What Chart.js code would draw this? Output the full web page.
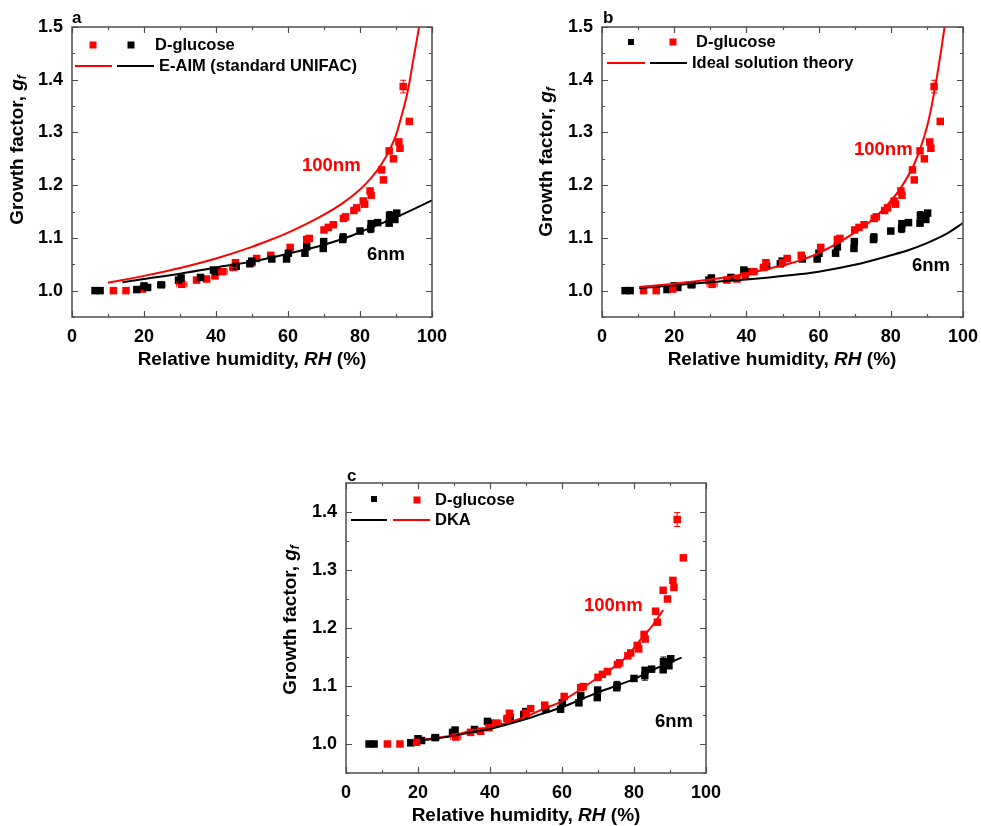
<!DOCTYPE html>
<html>
<head>
<meta charset="utf-8">
<script src="https://cdn.jsdelivr.net/npm/chart.js@4/dist/chart.umd.min.js"></script>
<style>
  body { margin: 0; background: #fff; width: 981px; height: 826px; position: relative; overflow: hidden; }
  .panel { position: absolute; }
</style>
</head>
<body>
<div class="panel" style="left:0px;top:0px;width:450px;height:400px"><canvas id="chartA"></canvas></div>
<div class="panel" style="left:520px;top:0px;width:461px;height:400px"><canvas id="chartB"></canvas></div>
<div class="panel" style="left:270px;top:460px;width:460px;height:366px"><canvas id="chartC"></canvas></div>
<script>
// measured growth factors, D-glucose, 100 nm particles
const rh100 = [11.5, 15.0, 19.6, 30.5, 34.6, 37.4, 39.7, 41.9, 44.8, 45.4, 50.0, 51.3, 55.2, 60.6, 65.2, 65.9,
               70.0, 71.2, 72.6, 75.4, 76.0, 78.3, 79.1, 80.9, 81.3, 82.8, 83.1, 86.0, 86.5, 88.1, 89.3,
               90.8, 91.1, 92.0, 93.7];
const gf100 = [1.000, 1.000, 1.003, 1.012, 1.020, 1.022, 1.028, 1.036, 1.044, 1.053, 1.053, 1.061, 1.067, 1.082, 1.097, 1.099,
               1.115, 1.120, 1.125, 1.137, 1.140, 1.152, 1.157, 1.170, 1.164, 1.189, 1.181, 1.229, 1.210, 1.265, 1.250,
               1.282, 1.270, 1.387, 1.321];
const errX100 = [0, 0, 0, 1.4, 0, 0, 0, 1.2, 1.0, 0, 0, 0, 0, 0, 0, 0,
                 0, 0, 0, 0, 0, 0, 0, 0, 0, 0, 0, 0, 0, 0, 0,
                 0, 0, 0, 0];
const errY100 = [0, 0, 0, 0, 0, 0, 0, 0, 0, 0, 0, 0, 0, 0, 0, 0,
                 0, 0, 0, 0, 0, 0, 0, 0, 0, 0, 0, 0, 0, 0, 0,
                 0, 0, 0.012, 0];

// measured growth factors, D-glucose, 6 nm particles
const rh6 = [6.4, 7.8, 18.0, 20.0, 21.0, 24.8, 29.6, 30.3, 35.7, 39.3, 40.0, 45.6, 49.4, 49.9, 55.5, 59.6,
             60.1, 64.7, 65.2, 69.8, 69.9, 75.2, 75.3, 80.0, 83.0, 83.1, 84.9, 88.1, 88.2, 89.7, 90.2];
const gf6 = [1.000, 1.000, 1.002, 1.009, 1.006, 1.011, 1.020, 1.024, 1.025, 1.039, 1.036, 1.046, 1.051, 1.056, 1.060, 1.060,
             1.071, 1.071, 1.083, 1.080, 1.093, 1.097, 1.101, 1.113, 1.118, 1.127, 1.129, 1.128, 1.142, 1.135, 1.147];
const errX6 = [0, 0, 0, 0, 0, 1.0, 0, 0, 0, 0, 0, 0, 0, 0, 0, 0,
               0, 0, 0, 0, 0, 0, 0, 0, 0, 0, 0, 0, 0, 0, 0];
const errY6 = [0, 0, 0, 0, 0, 0, 0, 0, 0, 0, 0, 0, 0, 0, 0, 0,
               0, 0, 0, 0, 0, 0, 0.007, 0, 0.008, 0, 0, 0, 0.008, 0, 0];

// E-AIM (standard UNIFAC)
const aimRh100 = [10, 20, 30, 40, 50, 55, 60, 65, 70, 75, 80, 83, 85.6, 88.3, 90, 92, 93, 94, 94.8, 95.6, 96.4, 97];
const aimGf100 = [1.015, 1.028, 1.043, 1.061, 1.083, 1.096, 1.110, 1.126, 1.144, 1.165, 1.192, 1.213, 1.236, 1.268, 1.295,
                  1.343, 1.370, 1.405, 1.438, 1.468, 1.500, 1.525];
const aimRh6 = [14, 20, 30, 40, 50, 55.6, 60, 70, 78, 80, 90, 100];
const aimGf6 = [1.016, 1.022, 1.032, 1.044, 1.055, 1.063, 1.070, 1.087, 1.105, 1.111, 1.139, 1.171];

// ideal solution theory
const idRh100 = [10.3, 20, 29.9, 40, 50, 54.8, 60, 70, 75, 80, 82.5, 86.2, 88.1, 90, 91, 92, 93, 94, 94.9, 95.5];
const idGf100 = [1.007, 1.013, 1.021, 1.032, 1.048, 1.057, 1.071, 1.110, 1.135, 1.170, 1.192, 1.236, 1.268, 1.310,
                 1.340, 1.375, 1.415, 1.458, 1.500, 1.530];
const idRh6 = [10.3, 20, 29.9, 40, 52, 60, 70, 80, 85, 90, 95, 100];
const idGf6 = [1.005, 1.010, 1.016, 1.021, 1.029, 1.036, 1.049, 1.067, 1.077, 1.090, 1.106, 1.128];

// DKA
const dkaRh100 = [21.9, 30, 35.4, 40, 50, 53.9, 60, 68.7, 70, 78, 82.6, 85, 88.1];
const dkaGf100 = [1.008, 1.015, 1.024, 1.029, 1.047, 1.058, 1.074, 1.109, 1.114, 1.151, 1.186, 1.203, 1.231];
const dkaRh6 = [21.9, 30, 35.4, 40, 50, 53.9, 59.4, 70, 78, 80, 86, 93.2];
const dkaGf6 = [1.007, 1.014, 1.021, 1.026, 1.043, 1.051, 1.062, 1.089, 1.107, 1.112, 1.130, 1.149];

// axis ticks
const xTicks = [0, 20, 40, 60, 80, 100];
const xMinor = [10, 30, 50, 70, 90];
const yTicksAB = [1.0, 1.1, 1.2, 1.3, 1.4, 1.5];
const yMinorAB = [0.95, 1.05, 1.15, 1.25, 1.35, 1.45];
const yTicksC = [1.0, 1.1, 1.2, 1.3, 1.4];
const yMinorC = [0.95, 1.05, 1.15, 1.25, 1.35];

const RED = '#ff0000';
const BLACK = '#000000';
const FAMILY = '"Liberation Sans", Arial, sans-serif';

function pts(xs, ys) {
  return xs.map((x, i) => ({ x: x, y: ys[i] }));
}

function pointSet(label, color, xs, ys, ex, ey) {
  return {
    type: 'scatter', label: label, data: pts(xs, ys),
    backgroundColor: color, borderColor: color, borderWidth: 0,
    pointStyle: 'rect', pointRadius: 5.3, errX: ex, errY: ey
  };
}

function lineSet(label, color, xs, ys) {
  return {
    type: 'line', label: label, data: pts(xs, ys),
    borderColor: color, backgroundColor: color, borderWidth: 2,
    pointRadius: 0, fill: false, cubicInterpolationMode: 'monotone'
  };
}

function richText(ctx, segs, x, y, rotate) {
  ctx.save();
  ctx.translate(x, y);
  if (rotate) ctx.rotate(-Math.PI / 2);
  ctx.textBaseline = 'middle';
  ctx.textAlign = 'left';
  let total = 0;
  const fontOf = s => (s.it ? 'italic ' : '') + 'bold ' + (s.sub ? 12 : 19) + 'px ' + FAMILY;
  segs.forEach(s => {
    ctx.font = fontOf(s);
    s.w = ctx.measureText(s.t).width;
    total += s.w;
  });
  let cx = -total / 2;
  segs.forEach(s => {
    ctx.font = fontOf(s);
    ctx.fillStyle = '#000';
    ctx.fillText(s.t, cx, s.sub ? 5 : 0);
    cx += s.w;
  });
  ctx.restore();
}

// frame, inward ticks, error bars, legend, labels
function decor(cfg) {
  return {
    id: 'decor',
    afterDatasetsDraw(chart) {
      const ctx = chart.ctx, xs = chart.scales.x, ys = chart.scales.y;
      ctx.save();
      chart.data.datasets.forEach(ds => {
        if (!ds.errY) return;
        ctx.strokeStyle = ds.borderColor;
        ctx.lineWidth = 1;
        ds.data.forEach((p, i) => {
          const px = xs.getPixelForValue(p.x), py = ys.getPixelForValue(p.y);
          const e = ds.errY[i], h = ds.errX[i];
          ctx.beginPath();
          if (e) {
            const t = ys.getPixelForValue(p.y + e), b = ys.getPixelForValue(p.y - e);
            ctx.moveTo(px, t); ctx.lineTo(px, b);
            ctx.moveTo(px - 3, t); ctx.lineTo(px + 3, t);
            ctx.moveTo(px - 3, b); ctx.lineTo(px + 3, b);
          }
          if (h) {
            const l = xs.getPixelForValue(p.x - h), r = xs.getPixelForValue(p.x + h);
            ctx.moveTo(l, py); ctx.lineTo(r, py);
            ctx.moveTo(l, py - 3); ctx.lineTo(l, py + 3);
            ctx.moveTo(r, py - 3); ctx.lineTo(r, py + 3);
          }
          ctx.stroke();
        });
      });
      ctx.restore();
    },
    afterDraw(chart) {
      const ctx = chart.ctx, a = chart.chartArea, xs = chart.scales.x, ys = chart.scales.y;
      ctx.save();
      ctx.strokeStyle = '#4d4d4d';
      ctx.lineWidth = 1.5;
      ctx.strokeRect(a.left, a.top, a.right - a.left, a.bottom - a.top);
      ctx.beginPath();
      const tx = (vals, len) => vals.forEach(v => {
        const p = Math.round(xs.getPixelForValue(v)) + 0.5;
        ctx.moveTo(p, a.bottom); ctx.lineTo(p, a.bottom - len);
        ctx.moveTo(p, a.top); ctx.lineTo(p, a.top + len);
      });
      const ty = (vals, len) => vals.forEach(v => {
        const p = Math.round(ys.getPixelForValue(v)) + 0.5;
        ctx.moveTo(a.left, p); ctx.lineTo(a.left + len, p);
        ctx.moveTo(a.right, p); ctx.lineTo(a.right - len, p);
      });
      tx(xTicks, 6); tx(xMinor, 3);
      ty(cfg.yTicks, 6); ty(cfg.yMinor, 3);
      ctx.lineWidth = 1.2;
      ctx.stroke();

      // legend
      const sets = chart.data.datasets;
      const byLabel = l => sets.find(d => d.label === l);
      cfg.legend.squares.forEach(s => {
        ctx.fillStyle = byLabel(s.of).backgroundColor;
        ctx.fillRect(s.x - s.size / 2, s.y - s.size / 2, s.size, s.size);
      });
      cfg.legend.lines.forEach(s => {
        ctx.strokeStyle = byLabel(s.of).borderColor;
        ctx.lineWidth = 2;
        ctx.beginPath(); ctx.moveTo(s.x1, s.y); ctx.lineTo(s.x2, s.y); ctx.stroke();
      });
      ctx.textBaseline = 'middle';
      ctx.textAlign = 'left';
      ctx.font = 'bold 16.5px ' + FAMILY;
      ctx.fillStyle = '#000';
      cfg.legend.texts.forEach(t => ctx.fillText(t.t, t.x, t.y));

      // size labels and panel letter
      ctx.font = 'bold 18.5px ' + FAMILY;
      cfg.labels.forEach(t => { ctx.fillStyle = t.c; ctx.fillText(t.t, t.x, t.y); });
      ctx.font = 'bold 17px ' + FAMILY;
      ctx.fillStyle = '#000';
      ctx.fillText(cfg.letter.t, cfg.letter.x, cfg.letter.y);
      ctx.restore();

      richText(ctx, [{ t: 'Relative humidity, ' }, { t: 'RH', it: true }, { t: ' (%)' }], cfg.xTitle[0], cfg.xTitle[1], false);
      richText(ctx, [{ t: 'Growth factor, ' }, { t: 'g', it: true }, { t: 'f', it: true, sub: true }], cfg.yTitle[0], cfg.yTitle[1], true);
    }
  };
}

function makeChart(id, datasets, cfg) {
  const font = { family: FAMILY, size: 18, weight: 'bold' };
  return new Chart(document.getElementById(id), {
    data: { datasets: datasets },
    options: {
      responsive: true, maintainAspectRatio: false, animation: false,
      layout: { padding: { left: 0, top: cfg.pad[0], right: cfg.pad[1], bottom: 0 } },
      plugins: { legend: { display: false }, tooltip: { enabled: false } },
      scales: {
        x: {
          type: 'linear', min: 0, max: 100,
          afterBuildTicks: s => { s.ticks = xTicks.map(v => ({ value: v })); },
          afterFit: s => { s.height = cfg.xH; s.paddingLeft = 0; s.paddingRight = 0; },
          grid: { display: false, drawTicks: false }, border: { display: false },
          ticks: { font: font, color: '#000', padding: 9, maxRotation: 0 }
        },
        y: {
          type: 'linear', min: cfg.yMin, max: cfg.yMax,
          afterBuildTicks: s => { s.ticks = cfg.yTicks.map(v => ({ value: v })); },
          afterFit: s => { s.width = cfg.yW; s.paddingTop = 0; s.paddingBottom = 0; },
          grid: { display: false, drawTicks: false }, border: { display: false },
          ticks: { font: font, color: '#000', padding: 9, callback: v => v.toFixed(1) }
        }
      }
    },
    plugins: [decor(cfg)]
  });
}

makeChart('chartA', [
  lineSet('aim100', RED, aimRh100, aimGf100),
  lineSet('aim6', BLACK, aimRh6, aimGf6),
  pointSet('pts6', BLACK, rh6, gf6, errX6, errY6),
  pointSet('pts100', RED, rh100, gf100, errX100, errY100)
], {
  pad: [27, 18], xH: 83, yW: 72, yMin: 0.95, yMax: 1.5, yTicks: yTicksAB, yMinor: yMinorAB,
  legend: {
    squares: [{ of: 'pts100', x: 93, y: 45, size: 7 }, { of: 'pts6', x: 131, y: 45, size: 7 }],
    lines: [{ of: 'aim100', x1: 75, x2: 112, y: 66 }, { of: 'aim6', x1: 117, x2: 154, y: 66 }],
    texts: [{ t: 'D-glucose', x: 155, y: 45 }, { t: 'E-AIM (standard UNIFAC)', x: 159, y: 66 }]
  },
  labels: [{ t: '100nm', c: RED, x: 302, y: 166 }, { t: '6nm', c: BLACK, x: 367, y: 255 }],
  letter: { t: 'a', x: 72, y: 18 },
  xTitle: [252, 360], yTitle: [18, 150]
});

makeChart('chartB', [
  lineSet('id100', RED, idRh100, idGf100),
  lineSet('id6', BLACK, idRh6, idGf6),
  pointSet('pts100', RED, rh100, gf100, errX100, errY100),
  pointSet('pts6', BLACK, rh6, gf6, errX6, errY6)
], {
  pad: [27, 18], xH: 83, yW: 82, yMin: 0.95, yMax: 1.5, yTicks: yTicksAB, yMinor: yMinorAB,
  legend: {
    squares: [{ of: 'pts6', x: 111, y: 42, size: 6 }, { of: 'pts100', x: 153, y: 42, size: 7 }],
    lines: [{ of: 'id100', x1: 87, x2: 125, y: 63 }, { of: 'id6', x1: 130, x2: 167, y: 63 }],
    texts: [{ t: 'D-glucose', x: 176, y: 42 }, { t: 'Ideal solution theory', x: 172, y: 63 }]
  },
  labels: [{ t: '100nm', c: RED, x: 334, y: 150 }, { t: '6nm', c: BLACK, x: 392, y: 266 }],
  letter: { t: 'b', x: 83, y: 18 },
  xTitle: [262, 360], yTitle: [27, 162]
});

makeChart('chartC', [
  lineSet('dka6', BLACK, dkaRh6, dkaGf6),
  lineSet('dka100', RED, dkaRh100, dkaGf100),
  pointSet('pts100', RED, rh100, gf100, errX100, errY100),
  pointSet('pts6', BLACK, rh6, gf6, errX6, errY6)
], {
  pad: [23, 24], xH: 53, yW: 76, yMin: 0.95, yMax: 1.45, yTicks: yTicksC, yMinor: yMinorC,
  legend: {
    squares: [{ of: 'pts6', x: 104, y: 39, size: 6 }, { of: 'pts100', x: 147, y: 40, size: 7 }],
    lines: [{ of: 'dka6', x1: 81, x2: 117, y: 60 }, { of: 'dka100', x1: 123, x2: 160, y: 60 }],
    texts: [{ t: 'D-glucose', x: 165, y: 40 }, { t: 'DKA', x: 165, y: 60 }]
  },
  labels: [{ t: '100nm', c: RED, x: 314, y: 146 }, { t: '6nm', c: BLACK, x: 385, y: 262 }],
  letter: { t: 'c', x: 77, y: 16 },
  xTitle: [256, 356], yTitle: [21, 160]
});
</script>
</body>
</html>
